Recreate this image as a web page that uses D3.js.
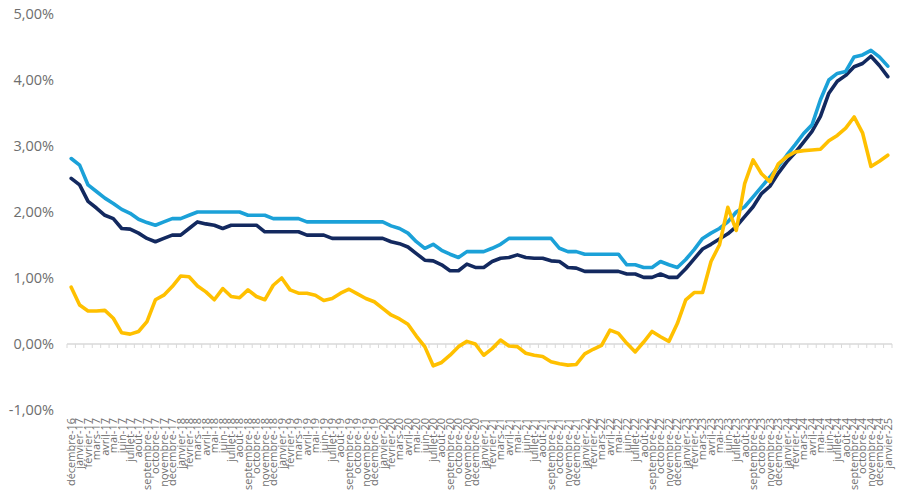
<!DOCTYPE html>
<html>
<head>
<meta charset="utf-8">
<script src="https://cdn.jsdelivr.net/npm/d3@7"></script>
<style>
  body { margin: 0; background: #fff; }
  svg { display: block; }
</style>
</head>
<body>
<svg id="chart" width="900" height="501"></svg>
<script>
// ---- Data ----
const categories = [
  "décembre-16",
  "janvier-17","février-17","mars-17","avril-17","mai-17","juin-17","juillet-17","août-17","septembre-17","octobre-17","novembre-17","décembre-17",
  "janvier-18","février-18","mars-18","avril-18","mai-18","juin-18","juillet-18","août-18","septembre-18","octobre-18","novembre-18","décembre-18",
  "janvier-19","février-19","mars-19","avril-19","mai-19","juin-19","juillet-19","août-19","septembre-19","octobre-19","novembre-19","décembre-19",
  "janvier-20","février-20","mars-20","avril-20","mai-20","juin-20","juillet-20","août-20","septembre-20","octobre-20","novembre-20","décembre-20",
  "janvier-21","février-21","mars-21","avril-21","mai-21","juin-21","juillet-21","août-21","septembre-21","octobre-21","novembre-21","décembre-21",
  "janvier-22","février-22","mars-22","avril-22","mai-22","juin-22","juillet-22","août-22","septembre-22","octobre-22","novembre-22","décembre-22",
  "janvier-23","février-23","mars-23","avril-23","mai-23","juin-23","juillet-23","août-23","septembre-23","octobre-23","novembre-23","décembre-23",
  "janvier-24","février-24","mars-24","avril-24","mai-24","juin-24","juillet-24","août-24","septembre-24","octobre-24","novembre-24","décembre-24",
  "janvier-25"
];

const serieBleuClair = [
  2.81,2.71,2.41,2.31,2.21,2.13,2.04,1.98,1.89,1.84,1.80,1.85,
  1.90,1.90,1.95,2.00,2.00,2.00,2.00,2.00,2.00,1.95,1.95,1.95,
  1.90,1.90,1.90,1.90,1.85,1.85,1.85,1.85,1.85,1.85,1.85,1.85,
  1.85,1.85,1.79,1.75,1.68,1.55,1.45,1.51,1.42,1.36,1.31,1.40,
  1.40,1.40,1.45,1.51,1.60,1.60,1.60,1.60,1.60,1.60,1.45,1.40,
  1.40,1.36,1.36,1.36,1.36,1.36,1.20,1.20,1.16,1.16,1.25,1.20,
  1.16,1.28,1.43,1.60,1.68,1.75,1.85,2.00,2.08,2.23,2.38,2.53,
  2.69,2.86,3.02,3.19,3.32,3.70,4.00,4.10,4.13,4.35,4.38,4.45,
  4.35,4.21
];

const serieBleuFonce = [
  2.51,2.41,2.16,2.06,1.95,1.90,1.75,1.74,1.68,1.60,1.55,1.60,
  1.65,1.65,1.75,1.85,1.82,1.80,1.75,1.80,1.80,1.80,1.80,1.70,
  1.70,1.70,1.70,1.70,1.65,1.65,1.65,1.60,1.60,1.60,1.60,1.60,
  1.60,1.60,1.55,1.52,1.47,1.37,1.27,1.26,1.20,1.11,1.11,1.21,
  1.16,1.16,1.25,1.30,1.31,1.35,1.31,1.30,1.30,1.26,1.25,1.16,
  1.15,1.10,1.10,1.10,1.10,1.10,1.06,1.06,1.01,1.01,1.06,1.01,
  1.01,1.14,1.29,1.44,1.51,1.59,1.67,1.78,1.93,2.08,2.28,2.39,
  2.59,2.76,2.90,3.06,3.22,3.45,3.80,3.98,4.07,4.20,4.25,4.36,
  4.22,4.05
];

const serieJaune = [
  0.86,0.59,0.50,0.50,0.51,0.39,0.17,0.15,0.19,0.34,0.67,0.74,
  0.87,1.03,1.02,0.88,0.79,0.67,0.84,0.72,0.70,0.82,0.72,0.67,
  0.89,1.00,0.82,0.77,0.77,0.74,0.66,0.69,0.77,0.83,0.76,0.69,
  0.64,0.54,0.44,0.38,0.30,0.12,-0.04,-0.33,-0.28,-0.17,-0.04,0.04,
  0.00,-0.17,-0.07,0.06,-0.03,-0.04,-0.14,-0.17,-0.19,-0.27,-0.30,-0.32,
  -0.31,-0.15,-0.08,-0.02,0.21,0.16,0.01,-0.12,0.03,0.19,0.11,0.04,
  0.31,0.67,0.78,0.78,1.25,1.50,2.07,1.72,2.43,2.79,2.58,2.46,
  2.73,2.84,2.91,2.93,2.94,2.95,3.08,3.16,3.27,3.44,3.20,2.69,
  2.77,2.86
];

const yTickValues = [-1, 0, 1, 2, 3, 4, 5];

// ---- Chart ----
const svg = d3.select("#chart");
const x = d3.scaleBand().domain(categories).range([67, 892]).paddingInner(0).paddingOuter(0);
const xc = c => x(c) + x.bandwidth() / 2;
const y = d3.scaleLinear().domain([-1, 5]).range([410, 14]);

const fmt = v => v.toFixed(2).replace(".", ",") + "%";

// Y axis labels
const yAxis = svg.append("g")
  .attr("transform", "translate(54,0)")
  .call(d3.axisLeft(y).tickValues(yTickValues).tickSize(0).tickPadding(0).tickFormat(fmt));
yAxis.select(".domain").remove();
yAxis.selectAll("text")
  .attr("fill", "#6e6e6e")
  .style("font-family", "'Open Sans', sans-serif")
  .style("font-size", "14.5px");

// Zero axis line with tick marks between categories
const zeroG = svg.append("g");
zeroG.append("line")
  .attr("x1", x.range()[0]).attr("x2", x.range()[1])
  .attr("y1", y(0)).attr("y2", y(0))
  .attr("stroke", "#d9d9d9").attr("stroke-width", 1.3);
const boundaries = categories.map(c => x(c)).concat([x.range()[1]]);
zeroG.selectAll("line.tick")
  .data(boundaries)
  .join("line")
  .attr("class", "tick")
  .attr("x1", d => d).attr("x2", d => d)
  .attr("y1", y(0)).attr("y2", y(0) + 4)
  .attr("stroke", "#d9d9d9").attr("stroke-width", 1);

// X labels (rotated)
const xAxis = svg.append("g")
  .attr("transform", "translate(0,418)")
  .call(d3.axisBottom(x).tickSize(0).tickPadding(0));
xAxis.select(".domain").remove();
xAxis.selectAll("text")
  .attr("x", 0).attr("y", 0).attr("dy", "0.35em")
  .attr("transform", "rotate(-90)")
  .style("text-anchor", "end")
  .attr("fill", "#6e6e6e")
  .style("font-family", "'Open Sans', sans-serif")
  .style("font-size", "11px");

// Lines
const series = [
  { values: serieBleuFonce, color: "#13295f" },
  { values: serieBleuClair, color: "#1ba1d8" },
  { values: serieJaune, color: "#ffc000" }
];
const line = d3.line()
  .x((d, i) => xc(categories[i]))
  .y(d => y(d));

svg.append("g").selectAll("path")
  .data(series)
  .join("path")
  .attr("d", s => line(s.values))
  .attr("fill", "none")
  .attr("stroke", s => s.color)
  .attr("stroke-width", 3.6)
  .attr("stroke-linejoin", "round")
  .attr("stroke-linecap", "round");
</script>
</body>
</html>
